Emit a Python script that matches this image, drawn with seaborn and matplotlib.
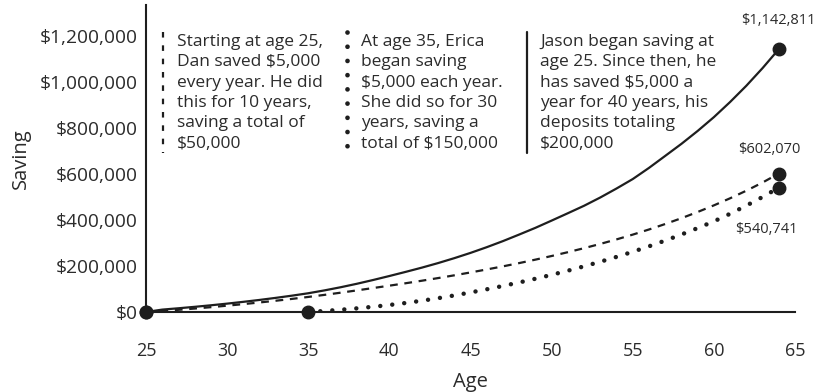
import matplotlib
matplotlib.use("Agg")
import matplotlib.pyplot as plt
import seaborn as sns
import pandas as pd
from matplotlib.ticker import FuncFormatter

# values (one per year of age)
jason_age = list(range(25, 65))
jason_saving = [0, 10400, 16200, 22500, 29200, 36400, 44200, 52500, 61500, 71100,
                81500, 94000, 107700, 122800, 139200, 156500, 174400, 192900, 212700, 234100,
                257000, 281800, 308300, 336800, 366000, 397500, 429500, 462000, 498000, 537000,
                578100, 626600, 678800, 731200, 787300, 847300, 913200, 983800, 1060500, 1142811]

dan_age = list(range(25, 65))
dan_saving = [0, 4500, 9500, 15000, 21000, 27500, 34300, 41500, 49000, 57000,
              65500, 74500, 84000, 94000, 104200, 114500, 125000, 136000, 147500, 159500,
              172000, 185000, 198500, 212700, 227700, 243500, 260100, 277600, 296100, 315700,
              336500, 358800, 382600, 407900, 434900, 463700, 494500, 527500, 563000, 602070]

erica_age = list(range(35, 65))
erica_saving = [0, 4500, 9800, 15900, 22800, 30500, 39200, 49000, 60000, 72000,
                85000, 98700, 113200, 128500, 144600, 161600, 179600, 198600, 218600, 239600,
                261900, 285600, 310600, 337000, 364800, 394100, 427100, 462600, 500100, 540741]

end_labels = ["$1,142,811", "$602,070", "$540,741"]

dan_text = ("Starting at age 25,\nDan saved $5,000\nevery year. He did\n"
            "this for 10 years,\nsaving a total of\n$50,000")
erica_text = ("At age 35, Erica\nbegan saving\n$5,000 each year.\n"
              "She did so for 30\nyears, saving a\ntotal of $150,000")
jason_text = ("Jason began saving at\nage 25. Since then, he\nhas saved $5,000 a\n"
              "year for 40 years, his\ndeposits totaling\n$200,000")

sns.set_style("white")
plt.rcParams['font.family'] = ['Open Sans', 'DejaVu Sans']

ink = '#1e1e1e'
txt = '#2b2b2b'
W, H = 815, 392

fig = plt.figure(figsize=(8.15, 3.92), dpi=100)
ax = fig.add_axes([146 / W, 1 - 312 / H, 649 / W, 307 / H])

jason = pd.DataFrame({'Age': jason_age, 'Saving': jason_saving})
dan = pd.DataFrame({'Age': dan_age, 'Saving': dan_saving})
erica = pd.DataFrame({'Age': erica_age, 'Saving': erica_saving})

sns.lineplot(data=jason, x='Age', y='Saving', color=ink, linewidth=1.6, ax=ax)
sns.lineplot(data=dan, x='Age', y='Saving', color=ink, linewidth=1.6,
             linestyle=(0, (3.5, 3)), ax=ax)
sns.lineplot(data=erica, x='Age', y='Saving', color=ink, linewidth=3.2,
             linestyle=(0, (0.01, 2.7)), dash_capstyle='round', ax=ax)

# start and end dots
for df in [jason, dan, erica]:
    ax.plot([df.Age.iloc[0], df.Age.iloc[-1]], [df.Saving.iloc[0], df.Saving.iloc[-1]],
            'o', color=ink, markersize=9, clip_on=False, zorder=5)

offsets = [(0, 21), (-7, 17), (-9, -30)]
for df, lab, off in zip([jason, dan, erica], end_labels, offsets):
    ax.annotate(lab.replace('$', r'\$'), (df.Age.iloc[-1], df.Saving.iloc[-1]),
                xytext=off, textcoords='offset points', ha='center', va='center',
                fontsize=10.5, color=txt)

ax.set_xlim(25, 65)
ax.set_ylim(0, 1335000)
ax.set_xticks(range(25, 66, 5))
ax.set_yticks(range(0, 1200001, 200000))
ax.yaxis.set_major_formatter(FuncFormatter(lambda v, p: r'\$' + f'{v:,.0f}'))
ax.tick_params(axis='x', length=7.5, width=1.5, color=ink, pad=14,
               labelsize=13, labelcolor=txt)
ax.tick_params(axis='y', length=0, pad=6, labelsize=13.8, labelcolor=txt)
sns.despine(ax=ax)
for s in ['left', 'bottom']:
    ax.spines[s].set_linewidth(1.5)
    ax.spines[s].set_color(ink)

ax.set_xlabel('Age', fontsize=14.5, color=txt)
ax.set_ylabel('Saving', fontsize=14.5, color=txt)
ax.xaxis.set_label_coords(0.5, -0.195)
ax.yaxis.set_label_coords(-0.177, 0.5)

# text blocks with their line markers
blocks = [(163, 177, dan_text, dict(linestyle=(0, (2.5, 3.5)), linewidth=1.6)),
          (347, 361, erica_text, dict(linestyle=(0, (0.01, 3.0)), linewidth=3.4,
                                      dash_capstyle='round')),
          (527, 540, jason_text, dict(linestyle='-', linewidth=1.6))]
for lx, tx, body, style in blocks:
    ax.plot([lx / W, lx / W], [1 - 32 / H, 1 - 153 / H], color=ink,
            transform=fig.transFigure, clip_on=False, **style)
    fig.text(tx / W, 1 - 34 / H, body.replace('$', r'\$'), ha='left', va='top',
             fontsize=12.5, color=txt, linespacing=1.36)

fig.savefig('out.png', dpi=100)
